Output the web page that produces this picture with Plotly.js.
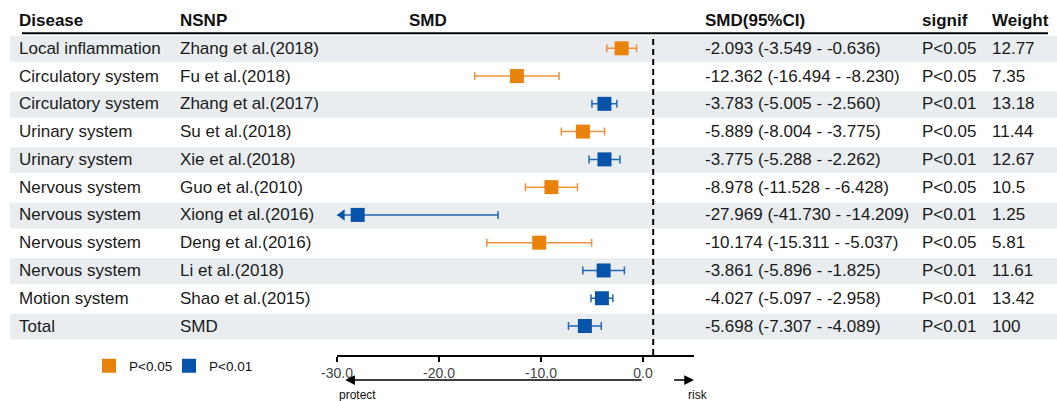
<!DOCTYPE html>
<html>
<head>
<meta charset="utf-8">
<script src="https://cdn.plot.ly/plotly-3.0.1.min.js"></script>
<style>html,body{margin:0;padding:0;background:#fff;}#chart{width:1057px;height:401px;}</style>
</head>
<body>
<div id="chart"></div>
<script>
// ---- data ----
const diseases = ['Local inflammation','Circulatory system','Circulatory system','Urinary system','Urinary system','Nervous system','Nervous system','Nervous system','Nervous system','Motion system','Total'];
const studies = ['Zhang et al.(2018)','Fu et al.(2018)','Zhang et al.(2017)','Su et al.(2018)','Xie et al.(2018)','Guo et al.(2010)','Xiong et al.(2016)','Deng et al.(2016)','Li et al.(2018)','Shao et al.(2015)','SMD'];
const smd   = [-2.093,-12.362,-3.783,-5.889,-3.775,-8.978,-27.969,-10.174,-3.861,-4.027,-5.698];
const lower = [-3.549,-16.494,-5.005,-8.004,-5.288,-11.528,-41.730,-15.311,-5.896,-5.097,-7.307];
const upper = [-0.636,-8.230,-2.560,-3.775,-2.262,-6.428,-14.209,-5.037,-1.825,-2.958,-4.089];
const signif = ['P<0.05','P<0.05','P<0.01','P<0.05','P<0.01','P<0.05','P<0.01','P<0.05','P<0.01','P<0.01','P<0.01'];
const weight = [12.77,7.35,13.18,11.44,12.67,10.5,1.25,5.81,11.61,13.42,100];
const headers = ['Disease','NSNP','SMD','SMD(95%CI)','signif','Weight'];
const tickVals = [-30,-20,-10,0];
const tickText = ['-30.0','-20.0','-10.0','0.0'];
const xRange = [-30,5];
const refLine = 1;
const protectArrow = [0,-29.2];
const riskArrow = [2.9,5];
const groups = ['P<0.05','P<0.01'];

// ---- styling ----
const W = 1057, H = 401;
const FONT = 'Liberation Sans, Arial, Helvetica, sans-serif';
const fillCol = {'P<0.05':'#E8840C','P<0.01':'#0753A9'};
const barCol  = {'P<0.05':'#EE9440','P<0.01':'#2467B5'};
const legW = {'P<0.05':35,'P<0.01':50};
const row0 = 48.3, rowPx = 27.77;
const yTop = 1 - row0/rowPx, yBot = 1 + (H-row0)/rowPx;
const px = v => v / W;
const py = v => 1 - v / H;
const rows = diseases.map((d,i)=>i+1);

const traces = [];
groups.forEach(g=>{
  const idx = rows.map((r,i)=>i).filter(i=>signif[i]===g);
  traces.push({
    type:'scatter', mode:'markers', name:g, legendwidth:legW[g],
    x: idx.map(i=>smd[i]), y: idx.map(i=>rows[i]),
    marker:{symbol:'square', size:14, color:fillCol[g], line:{width:0}},
    error_x:{type:'data', symmetric:false,
      array: idx.map(i=>upper[i]-smd[i]),
      arrayminus: idx.map(i=>smd[i]-lower[i]),
      color: barCol[g], thickness:1.5, width:4},
    hoverinfo:'skip'
  });
  const clipped = idx.filter(i=>lower[i] < xRange[0]);
  if (clipped.length) {
    traces.push({
      type:'scatter', mode:'markers', showlegend:false,
      x: clipped.map(()=>xRange[0]+0.5), y: clipped.map(i=>rows[i]),
      marker:{symbol:'triangle-left', size:10, color:fillCol[g]},
      hoverinfo:'skip'
    });
  }
});

const shapes = [];
rows.forEach((r,i)=>{
  if (i%2===0) shapes.push({type:'rect', layer:'below', xref:'paper', yref:'y',
    x0:px(10), x1:1, y0:r-0.44, y1:r+0.49, fillcolor:'#E9EDEF', line:{width:0}});
});
shapes.push({type:'line', xref:'paper', yref:'y', x0:px(22), x1:px(1048), y0:0.46, y1:0.46,
  line:{color:'#000', width:2}});
shapes.push({type:'line', xref:'x', yref:'paper', x0:refLine, x1:refLine, y0:py(355), y1:py(35),
  line:{color:'#000', width:2, dash:'6px,4px'}});

const colX = [17,178,428,703,920,990];
const annotations = [];
headers.forEach((h,j)=>{
  annotations.push({xref:'paper', yref:'y', x:px(colX[j]), y:0, text:'<b>'+h+'</b>',
    xanchor: j===2?'center':'left', yanchor:'middle', showarrow:false,
    font:{family:FONT, size:17, color:'#111'}});
});
const txtFont = {family:FONT, size:17, color:'#1a1a1a'};
rows.forEach((r,i)=>{
  const ci = smd[i].toFixed(3)+' ('+lower[i].toFixed(3)+' - '+upper[i].toFixed(3)+')';
  const cells = [[0,diseases[i]],[1,studies[i]],[3,ci],[4,signif[i]],[5,String(weight[i])]];
  cells.forEach(([j,t])=>{
    annotations.push({xref:'paper', yref:'y', x:px(colX[j]), y:r, text:t,
      xanchor:'left', yanchor:'middle', showarrow:false, font:txtFont});
  });
});
// direction arrows
annotations.push({xref:'x', yref:'paper', x:protectArrow[1], y:py(380), axref:'x', ax:protectArrow[0], ayref:'pixel', ay:0,
  text:'', showarrow:true, arrowhead:2, arrowsize:1.3, arrowwidth:1.5, arrowcolor:'#000', standoff:0, startstandoff:0});
annotations.push({xref:'x', yref:'paper', x:riskArrow[1], y:py(380), axref:'x', ax:riskArrow[0], ayref:'pixel', ay:0,
  text:'', showarrow:true, arrowhead:2, arrowsize:1.3, arrowwidth:1.5, arrowcolor:'#000', standoff:0, startstandoff:0});
annotations.push({xref:'paper', yref:'paper', x:px(337), y:py(395), text:'protect', xanchor:'left', yanchor:'middle',
  showarrow:false, font:{family:FONT, size:12, color:'#111'}});
annotations.push({xref:'paper', yref:'paper', x:px(686), y:py(395), text:'risk', xanchor:'left', yanchor:'middle',
  showarrow:false, font:{family:FONT, size:12, color:'#111'}});

const layout = {
  width:W, height:H, margin:{l:0,r:0,t:0,b:0},
  paper_bgcolor:'#fff', plot_bgcolor:'rgba(0,0,0,0)',
  font:{family:FONT, color:'#111'},
  xaxis:{domain:[px(337), px(694)], range:xRange, anchor:'free', position:py(355),
    showline:true, linecolor:'#000', linewidth:1.5, ticks:'outside', ticklen:5, tickwidth:1.5, tickcolor:'#000',
    tickvals:tickVals, ticktext:tickText, tickfont:{family:FONT, size:14, color:'#444'},
    showgrid:false, zeroline:false, fixedrange:true},
  yaxis:{domain:[0,1], range:[yBot, yTop], visible:false, showgrid:false, zeroline:false, fixedrange:true},
  showlegend:true,
  legend:{orientation:'h', x:px(89), y:py(366), xanchor:'left', yanchor:'middle',
    font:{family:FONT, size:13.5, color:'#111'}, bgcolor:'rgba(0,0,0,0)', itemclick:false, itemdoubleclick:false},
  shapes:shapes, annotations:annotations
};
Plotly.newPlot('chart', traces, layout, {displayModeBar:false, staticPlot:true});
</script>
</body>
</html>
